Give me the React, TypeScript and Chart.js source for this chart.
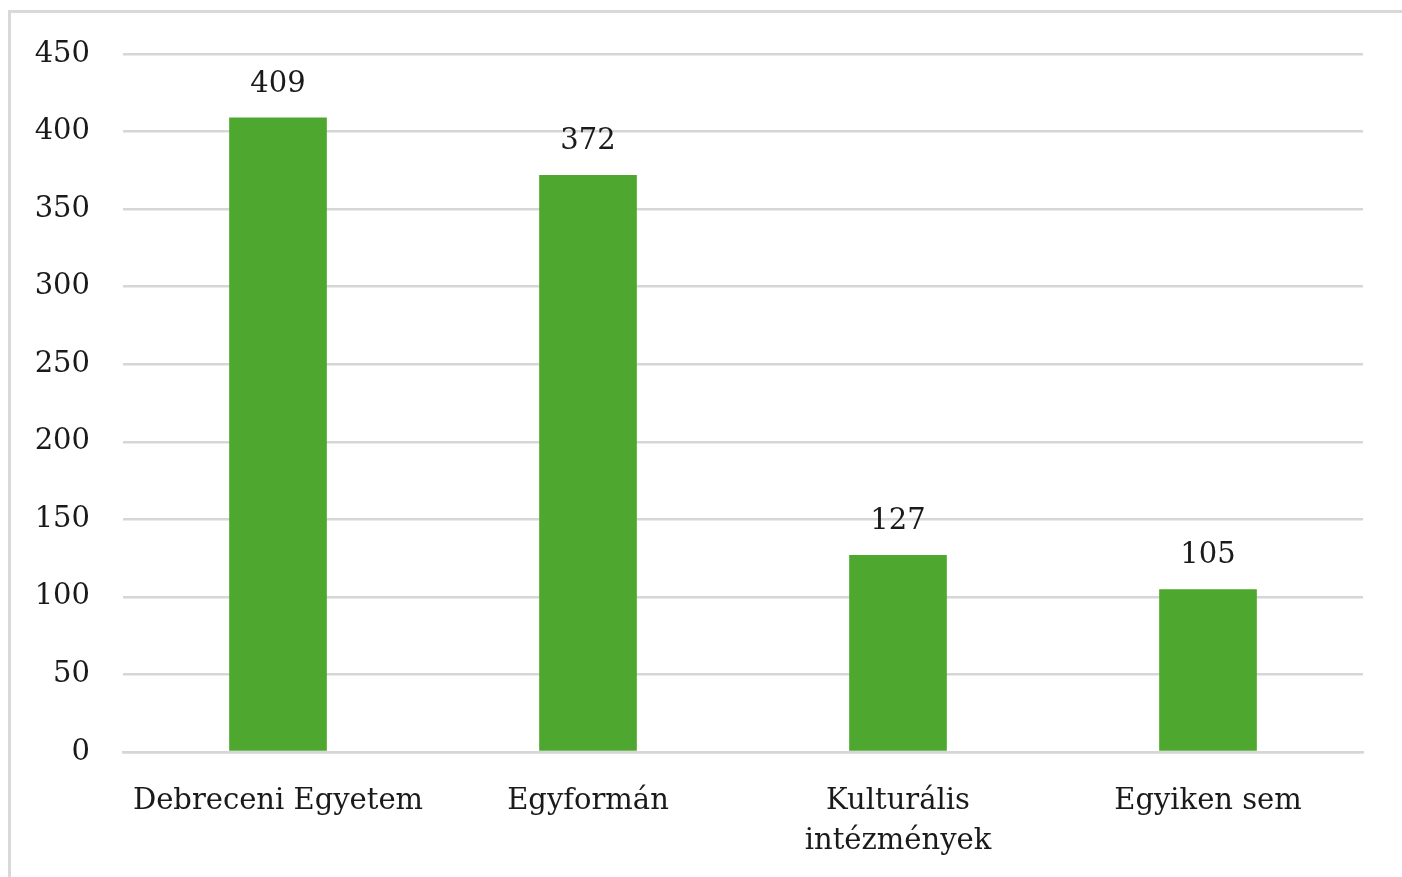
import React, { useEffect, useRef } from "react";
import { Chart, registerables } from "chart.js";

Chart.register(...registerables);

const categories: (string | string[])[] = [
  "Debreceni Egyetem",
  "Egyformán",
  ["Kulturális", "intézmények"],
  "Egyiken sem",
];
const values: number[] = [409, 372, 127, 105];
const yTicks: number[] = [0, 50, 100, 150, 200, 250, 300, 350, 400, 450];

const FONT = "'DejaVu Serif', 'Liberation Serif', serif";
const TEXT = "#1a1a1a";
const GRID = "#d6d6d6";
const GREEN = "#4EA72E";

const valueLabels = {
  id: "valueLabels",
  afterDatasetsDraw(chart: any) {
    const ctx = chart.ctx;
    const meta = chart.getDatasetMeta(0);
    ctx.save();
    ctx.font = `29px ${FONT}`;
    ctx.fillStyle = TEXT;
    ctx.textAlign = "center";
    ctx.textBaseline = "alphabetic";
    meta.data.forEach((bar: any, i: number) => {
      ctx.fillText(String(values[i]), bar.x, bar.y - 26);
    });
    ctx.restore();
  },
};

const frame = {
  id: "frame",
  beforeDraw(chart: any) {
    const ctx = chart.ctx;
    ctx.save();
    ctx.strokeStyle = "#d9d9d9";
    ctx.lineWidth = 3;
    ctx.beginPath();
    ctx.moveTo(9.5, chart.height + 5);
    ctx.lineTo(9.5, 11.5);
    ctx.lineTo(chart.width + 5, 11.5);
    ctx.stroke();
    ctx.restore();
  },
};

export default function App() {
  const ref = useRef<HTMLCanvasElement>(null);
  useEffect(() => {
    if (!ref.current) return;
    const chart = new Chart(ref.current, {
      type: "bar",
      data: {
        labels: categories,
        datasets: [
          {
            data: values,
            backgroundColor: GREEN,
            borderWidth: 0,
            categoryPercentage: 1,
            barPercentage: 0.315,
          },
        ],
      },
      options: {
        animation: false,
        responsive: false,
        maintainAspectRatio: false,
        layout: { padding: { left: 0, right: 39, top: 54, bottom: 0 } },
        plugins: {
          legend: { display: false },
          tooltip: { enabled: false },
        },
        scales: {
          x: {
            grid: { display: false, drawTicks: false },
            border: { display: true, color: GRID, width: 2.5 },
            ticks: {
              color: TEXT,
              font: { family: FONT, size: 29, lineHeight: 1.38 },
              padding: 29,
              maxRotation: 0,
              autoSkip: false,
            },
            afterFit(scale: any) {
              scale.height = 125;
            },
          },
          y: {
            min: 0,
            max: 450,
            afterBuildTicks(scale: any) {
              scale.ticks = yTicks.map((v) => ({ value: v }));
            },
            grid: { color: GRID, lineWidth: 2.5, drawTicks: false },
            border: { display: false },
            ticks: {
              color: TEXT,
              font: { family: FONT, size: 29 },
              padding: 33,
            },
            afterFit(scale: any) {
              scale.width = 123;
            },
          },
        },
      },
      plugins: [frame, valueLabels],
    });
    return () => chart.destroy();
  }, []);

  return (
    <div
      style={{
        position: "fixed",
        left: 0,
        top: 0,
        width: 1402,
        height: 877,
        background: "#fff",
        overflow: "hidden",
      }}
    >
      <canvas
        ref={ref}
        width={1402}
        height={877}
        style={{ position: "absolute", left: 0, top: 0, width: 1402, height: 877 }}
      />
    </div>
  );
}
